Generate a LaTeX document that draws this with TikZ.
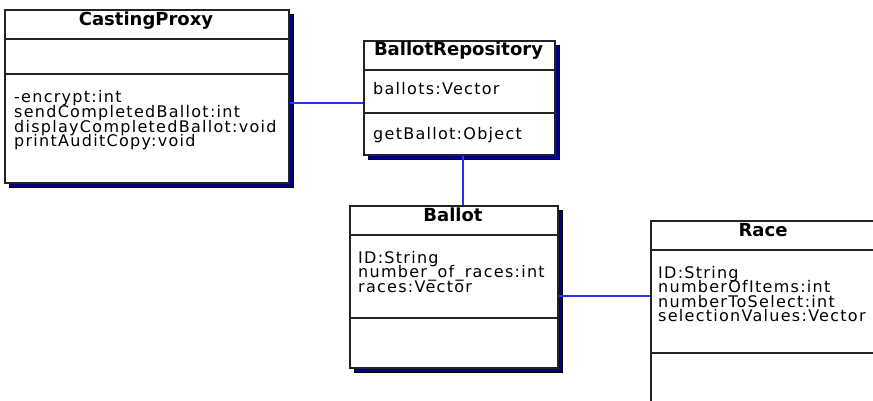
\documentclass[tikz,border=0pt]{standalone}
\usepackage{fontspec}
\setmainfont{DejaVu Sans}
\newfontfamily\memberfont[LetterSpace=8]{DejaVu Sans}
\usetikzlibrary{shadows}

\definecolor{boxline}{RGB}{35,35,35}
\definecolor{shadownavy}{RGB}{0,0,128}
\definecolor{assocblue}{RGB}{45,45,245}

\tikzset{
  classbox/.style={draw=boxline, line width=1.8pt, fill=white, inner sep=0pt,
    anchor=north west,
    drop shadow={shadow xshift=4pt, shadow yshift=-4pt, fill=shadownavy,
      draw=black, line width=0.6pt, opacity=1}},
  compartline/.style={draw=boxline, line width=1.6pt},
  classname/.style={font=\bfseries\fontsize{18}{18}\selectfont, inner sep=0pt, anchor=base},
  member/.style={font=\memberfont\fontsize{16}{14.5}\selectfont, inner sep=0pt, anchor=base west},
  assoc/.style={draw=assocblue, line width=1.7pt},
}

\begin{document}
\begin{tikzpicture}[x=1pt,y=-1pt]
\useasboundingbox (0,0) rectangle (873,401);
\clip (0,0) rectangle (873,401);

% class boxes
\node[classbox, minimum width=284pt, minimum height=173pt] (cp) at (4,9) {};
\node[classbox, minimum width=191pt, minimum height=114pt] (br) at (363,40) {};
\node[classbox, minimum width=208pt, minimum height=162pt] (ballot) at (349,205) {};
\node[classbox, minimum width=226pt, minimum height=190pt] (race) at (650,220) {};

% compartment separators
\draw[compartline] (cp.west |- 0,39) -- (cp.east |- 0,39);
\draw[compartline] (cp.west |- 0,74) -- (cp.east |- 0,74);
\draw[compartline] (br.west |- 0,70) -- (br.east |- 0,70);
\draw[compartline] (br.west |- 0,113) -- (br.east |- 0,113);
\draw[compartline] (ballot.west |- 0,235) -- (ballot.east |- 0,235);
\draw[compartline] (ballot.west |- 0,318) -- (ballot.east |- 0,318);
\draw[compartline] (race.west |- 0,250) -- (race.east |- 0,250);
\draw[compartline] (race.west |- 0,353) -- (race.east |- 0,353);

% class names
\node[classname] (cpName) at (146,26) {CastingProxy};
\node[classname] (brName) at (458.5,56) {BallotRepository};
\node[classname] (ballotName) at (453,221) {Ballot};
\node[classname] (raceName) at (763,236) {Race};

% CastingProxy operations
\node[member] (cpOp1) at (14,103) {-encrypt:int};
\node[member] (cpOp2) at (14,117.7) {sendCompletedBallot:int};
\node[member] (cpOp3) at (14,132.3) {displayCompletedBallot:void};
\node[member] (cpOp4) at (14,147) {printAuditCopy:void};

% BallotRepository members
\node[member] (brAttr1) at (373,95) {ballots:Vector};
\node[member] (brOp1) at (373,140) {getBallot:Object};

% Ballot attributes
\node[member] (ballotAttr1) at (358,263) {ID:String};
\node[member] (ballotAttr2) at (358,277.5) {number\_of\_races:int};
\node[member] (ballotAttr3) at (358,292) {races:Vector};

% Race attributes
\node[member] (raceAttr1) at (658,278) {ID:String};
\node[member] (raceAttr2) at (658,292.5) {numberOfItems:int};
\node[member] (raceAttr3) at (658,307) {numberToSelect:int};
\node[member] (raceAttr4) at (658,321.5) {selectionValues:Vector};

% associations
\coordinate (brIn) at ([yshift=-5pt]br.west);
\draw[assoc] (cp.east |- brIn) -- (brIn);
\coordinate (brOut) at ([xshift=3.5pt]br.south);
\draw[assoc] (brOut) -- (ballot.north -| brOut);
\coordinate (ballotOut) at ([yshift=-9pt]ballot.east);
\draw[assoc] (ballotOut) -- (race.west |- ballotOut);
\end{tikzpicture}
\end{document}
